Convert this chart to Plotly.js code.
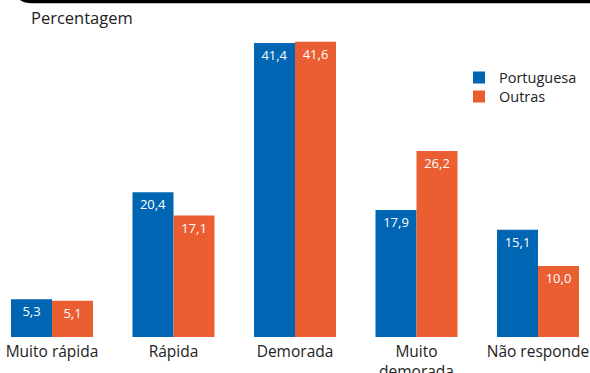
<!DOCTYPE html>
<html>
<head>
<meta charset="utf-8">
<script src="https://cdn.plot.ly/plotly-3.0.1.min.js"></script>
<style>html,body{margin:0;padding:0;background:#fff;}#chart{width:590px;height:373px;}</style>
</head>
<body>
<div id="chart"></div>
<script>
const categories = ["Muito rápida", "Rápida", "Demorada", "Muito<br>demorada", "Não responde"];
const portuguesa = [5.3, 20.4, 41.4, 17.9, 15.1];
const outras = [5.1, 17.1, 41.6, 26.2, 10.0];
const seriesNames = ["Portuguesa", "Outras"];
const yTitle = "Percentagem";

const W = 590, H = 373;
const plotTop = 20, plotBottom = 337;
const py = Y => (plotBottom - Y) / (plotBottom - plotTop);
const px = X => X / W;

const font = "'Open Sans', 'Noto Sans', sans-serif";

function barTrace(name, values, color, legendId) {
  return {
    type: 'bar', name: name, x: categories, y: values, legend: legendId,
    marker: {color: color, line: {width: 0}},
    texttemplate: '%{y:.1f}', textposition: 'inside', insidetextanchor: 'end',
    textangle: 0,
    insidetextfont: {color: '#ffffff', size: 13, family: font},
    hoverinfo: 'skip'
  };
}

const data = [
  barTrace(seriesNames[0], portuguesa, '#0066b3', 'legend'),
  barTrace(seriesNames[1], outras, '#ea5e32', 'legend2')
];

function legendAt(yCenter) {
  return {x: px(459), y: py(yCenter), xanchor: 'left', yanchor: 'middle',
          font: {size: 14.5, color: '#222222', family: font},
          bgcolor: 'rgba(0,0,0,0)', itemwidth: 30, borderwidth: 0};
}

const layout = {
  width: W, height: H,
  margin: {l: 0, r: 0, t: plotTop, b: H - plotBottom, pad: 0},
  paper_bgcolor: '#ffffff', plot_bgcolor: '#ffffff',
  separators: ',.',
  font: {family: font, size: 15.5, color: '#222222'},
  barmode: 'group', bargap: 0.325, bargroupgap: 0,
  showlegend: true,
  legend: legendAt(77.5),
  legend2: legendAt(96.5),
  xaxis: {type: 'category', range: [-0.428, 4.428], showgrid: false, zeroline: false,
          showline: false, ticks: '', automargin: false, ticklabelstandoff: 3,
          tickfont: {size: 15.5, color: '#222222', family: font}},
  yaxis: {range: [0, (plotBottom - plotTop) / 7.1], showgrid: false, zeroline: false,
          showline: false, showticklabels: false, ticks: '', automargin: false},
  annotations: [{
    text: yTitle, xref: 'paper', yref: 'paper', x: px(29), y: py(17),
    xanchor: 'left', yanchor: 'middle', showarrow: false,
    font: {size: 16.5, color: '#222222', family: font}
  }],
  shapes: [{
    type: 'path', xref: 'paper', yref: 'paper',
    path: `M ${px(17)},${py(-12)} Q ${px(17)},${py(1.5)} ${px(32)},${py(1.5)} L ${px(600)},${py(1.5)}`,
    line: {color: '#000000', width: 3.5}
  }]
};

Plotly.newPlot('chart', data, layout, {displayModeBar: false, staticPlot: true});
</script>
</body>
</html>
